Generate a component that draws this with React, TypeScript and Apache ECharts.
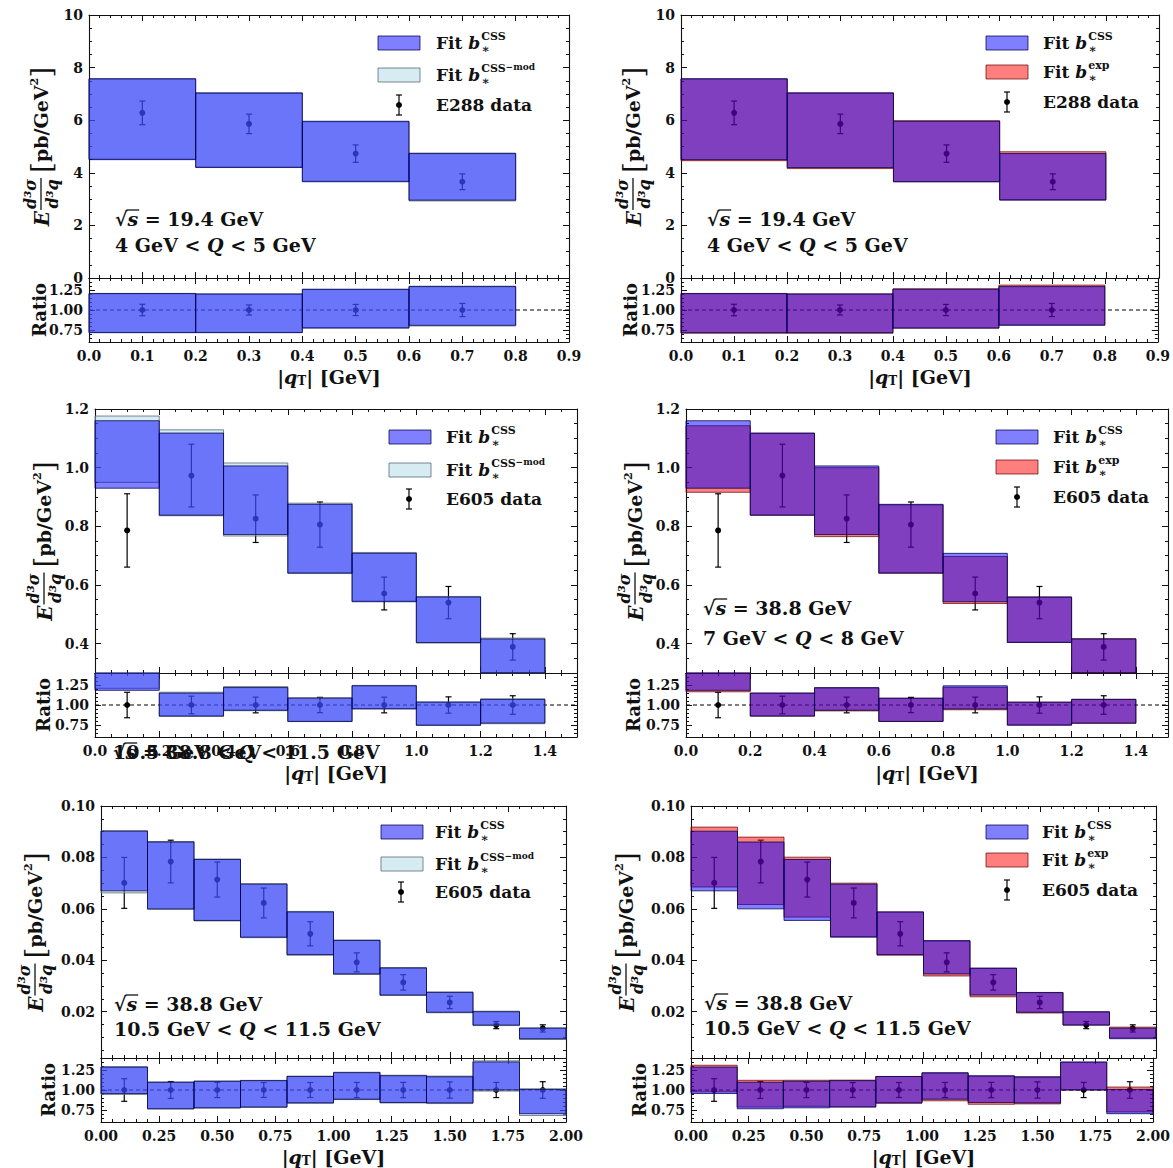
import React, { useEffect, useRef } from 'react';
import * as echarts from 'echarts';

const SERIF = '"DejaVu Serif", "Liberation Serif", serif';
const INK = '#111';

// ---------- E288, sqrt(s) = 19.4 GeV, 4 GeV < Q < 5 GeV ----------
const e288Edges = [0, 0.2, 0.4, 0.6, 0.8];
const e288Data = [6.28, 5.86, 4.73, 3.66];
const e288Err = [0.45, 0.37, 0.33, 0.3];
const e288CssLo = [4.5, 4.2, 3.66, 2.96];
const e288CssHi = [7.58, 7.04, 5.96, 4.73];
const e288ModLo = [4.52, 4.22, 3.68, 2.93];
const e288ModHi = [7.56, 7.02, 5.94, 4.75];
const e288ExpLo = [4.46, 4.16, 3.66, 2.98];
const e288ExpHi = [7.56, 7.03, 5.98, 4.8];

// ---------- E605, sqrt(s) = 38.8 GeV, 7 GeV < Q < 8 GeV ----------
const e605lowEdges = [0, 0.2, 0.4, 0.6, 0.8, 1.0, 1.2, 1.4];
const e605lowData = [0.786, 0.973, 0.826, 0.806, 0.571, 0.54, 0.389];
const e605lowErr = [0.125, 0.107, 0.081, 0.077, 0.056, 0.055, 0.045];
const e605lowCssLo = [0.93, 0.838, 0.772, 0.641, 0.543, 0.404, 0.301];
const e605lowCssHi = [1.16, 1.118, 1.006, 0.875, 0.708, 0.559, 0.416];
const e605lowModLo = [0.95, 0.836, 0.767, 0.639, 0.545, 0.402, 0.298];
const e605lowModHi = [1.176, 1.129, 1.016, 0.879, 0.711, 0.561, 0.419];
const e605lowExpLo = [0.916, 0.838, 0.765, 0.64, 0.537, 0.405, 0.3];
const e605lowExpHi = [1.143, 1.117, 1.0, 0.873, 0.697, 0.559, 0.417];

// ---------- E605, sqrt(s) = 38.8 GeV, 10.5 GeV < Q < 11.5 GeV ----------
const e605highEdges = [0, 0.2, 0.4, 0.6, 0.8, 1.0, 1.2, 1.4, 1.6, 1.8, 2.0];
const e605highData = [0.0701, 0.0784, 0.0714, 0.0623, 0.0503, 0.0392, 0.0314, 0.0236, 0.0148, 0.0135];
const e605highErr = [0.0099, 0.0083, 0.0068, 0.0058, 0.0047, 0.0037, 0.003, 0.0024, 0.0014, 0.0014];
const e605highCssLo = [0.067, 0.06, 0.0555, 0.049, 0.0422, 0.0347, 0.0265, 0.0198, 0.0148, 0.0095];
const e605highCssHi = [0.0902, 0.086, 0.0792, 0.0696, 0.0588, 0.0477, 0.037, 0.0275, 0.02, 0.0136];
const e605highModLo = [0.0662, 0.0598, 0.0553, 0.0488, 0.042, 0.0345, 0.0263, 0.0196, 0.0146, 0.0092];
const e605highModHi = [0.0904, 0.0862, 0.0794, 0.0698, 0.059, 0.0479, 0.0372, 0.0277, 0.0202, 0.0137];
const e605highExpLo = [0.0685, 0.0617, 0.0568, 0.0492, 0.042, 0.0339, 0.0258, 0.0195, 0.0148, 0.0098];
const e605highExpHi = [0.0918, 0.0879, 0.0801, 0.07, 0.0588, 0.0474, 0.0368, 0.0274, 0.0199, 0.014];

// ---------- tick labels ----------
const e288XTicks = [0, 0.1, 0.2, 0.3, 0.4, 0.5, 0.6, 0.7, 0.8, 0.9];
const e288YTicks = [0, 2, 4, 6, 8, 10];
const e605lowXTicks = [0, 0.2, 0.4, 0.6, 0.8, 1.0, 1.2, 1.4];
const e605lowYTicks = [0.4, 0.6, 0.8, 1.0, 1.2];
const e605highXTicks = [0, 0.25, 0.5, 0.75, 1.0, 1.25, 1.5, 1.75, 2.0];
const e605highYTicks = [0.02, 0.04, 0.06, 0.08, 0.1];
const ratioYTicks = [0.75, 1.0, 1.25];

function steps(a: number, b: number, s: number) {
  const out: number[] = [];
  const n = Math.round((b - a) / s);
  for (let i = 0; i <= n; i++) out.push(+(a + i * s).toFixed(6));
  return out;
}

const AX_E288_X = { min: 0, max: 0.9, major: e288XTicks, minor: steps(0, 0.9, 0.02), dec: 1 };
const AX_E288_Y = { min: 0, max: 10, major: e288YTicks, minor: steps(0, 10, 0.5), dec: 0 };
const AX_LOW_X = { min: 0, max: 1.5, major: e605lowXTicks, minor: steps(0, 1.5, 0.05), dec: 1 };
const AX_LOW_Y = { min: 0.3, max: 1.2, major: e605lowYTicks, minor: steps(0.3, 1.2, 0.05), dec: 1 };
const AX_HIGH_X = { min: 0, max: 2, major: e605highXTicks, minor: steps(0, 2, 0.05), dec: 2 };
const AX_HIGH_Y = { min: 0.002, max: 0.1, major: e605highYTicks, minor: steps(0.005, 0.1, 0.005), dec: 2 };
const AX_RATIO_Y = { min: 0.6, max: 1.4, major: ratioYTicks, minor: steps(0.6, 1.4, 0.05), dec: 2 };

const BLUE = { fill: 'rgba(0,0,255,0.5)', stroke: 'rgba(0,0,70,0.75)' };
const LIGHT = { fill: 'rgba(173,216,230,0.5)', stroke: 'rgba(80,100,110,0.75)' };
const RED = { fill: 'rgba(255,0,0,0.5)', stroke: 'rgba(100,0,0,0.7)' };

const F = (sz: number, it = false) => `${it ? 'italic ' : ''}bold ${sz}px ${SERIF}`;

const panels: any[] = [
  {
    left: 89, width: 480, top: 15, mid: 278, bottom: 342, ax: AX_E288_X, ay: AX_E288_Y,
    edges: e288Edges, data: e288Data, err: e288Err,
    under: { lo: e288ModLo, hi: e288ModHi, st: LIGHT }, over: { lo: e288CssLo, hi: e288CssHi, st: BLUE },
    second: 'mod', dataLabel: 'E288 data',
    legend: { patchX: 378, textX: 436, barX: 399, ys: [43, 75, 105] },
    notes: { x: 115, ys: [219, 245], rs: '19.4', q: ['4', '5'] },
    yTitleX: 41, ratioTitleX: 39, xTitleY: 377,
  },
  {
    left: 681, width: 478, top: 15, mid: 278, bottom: 342, ax: AX_E288_X, ay: AX_E288_Y,
    edges: e288Edges, data: e288Data, err: e288Err,
    under: { lo: e288ExpLo, hi: e288ExpHi, st: RED }, over: { lo: e288CssLo, hi: e288CssHi, st: BLUE },
    second: 'exp', dataLabel: 'E288 data',
    legend: { patchX: 986, textX: 1043, barX: 1007, ys: [43, 72, 102] },
    notes: { x: 707, ys: [219, 245], rs: '19.4', q: ['4', '5'] },
    yTitleX: 633, ratioTitleX: 630, xTitleY: 377,
  },
  {
    left: 95, width: 482, top: 409, mid: 673, bottom: 737, ax: AX_LOW_X, ay: AX_LOW_Y,
    edges: e605lowEdges, data: e605lowData, err: e605lowErr,
    under: { lo: e605lowModLo, hi: e605lowModHi, st: LIGHT }, over: { lo: e605lowCssLo, hi: e605lowCssHi, st: BLUE },
    second: 'mod', dataLabel: 'E605 data',
    legend: { patchX: 389, textX: 446, barX: 409, ys: [437, 470, 499] },
    notes: { x: 113, ys: [752, 752], rs: '38.8', q: ['10.5', '11.5'] },
    yTitleX: 44, ratioTitleX: 43, xTitleY: 773,
  },
  {
    left: 686, width: 482, top: 409, mid: 673, bottom: 737, ax: AX_LOW_X, ay: AX_LOW_Y,
    edges: e605lowEdges, data: e605lowData, err: e605lowErr,
    under: { lo: e605lowExpLo, hi: e605lowExpHi, st: RED }, over: { lo: e605lowCssLo, hi: e605lowCssHi, st: BLUE },
    second: 'exp', dataLabel: 'E605 data',
    legend: { patchX: 996, textX: 1053, barX: 1017, ys: [437, 467, 497] },
    notes: { x: 703, ys: [608, 638], rs: '38.8', q: ['7', '8'] },
    yTitleX: 635, ratioTitleX: 633, xTitleY: 773,
  },
  {
    left: 101, width: 465, top: 806, mid: 1058, bottom: 1122, ax: AX_HIGH_X, ay: AX_HIGH_Y,
    edges: e605highEdges, data: e605highData, err: e605highErr,
    under: { lo: e605highModLo, hi: e605highModHi, st: LIGHT }, over: { lo: e605highCssLo, hi: e605highCssHi, st: BLUE },
    second: 'mod', dataLabel: 'E605 data',
    legend: { patchX: 381, textX: 435, barX: 401, ys: [832, 864, 892] },
    notes: { x: 114, ys: [1004, 1029], rs: '38.8', q: ['10.5', '11.5'] },
    yTitleX: 35, ratioTitleX: 48, xTitleY: 1157,
  },
  {
    left: 691, width: 465, top: 806, mid: 1058, bottom: 1122, ax: AX_HIGH_X, ay: AX_HIGH_Y,
    edges: e605highEdges, data: e605highData, err: e605highErr,
    under: { lo: e605highExpLo, hi: e605highExpHi, st: RED }, over: { lo: e605highCssLo, hi: e605highCssHi, st: BLUE },
    second: 'exp', dataLabel: 'E605 data',
    legend: { patchX: 986, textX: 1042, barX: 1007, ys: [832, 860, 890] },
    notes: { x: 704, ys: [1003, 1028], rs: '38.8', q: ['10.5', '11.5'] },
    yTitleX: 626, ratioTitleX: 639, xTitleY: 1157,
  },
];

let measureCtx: CanvasRenderingContext2D | null = null;
function measure(text: string, font: string) {
  if (!measureCtx) measureCtx = document.createElement('canvas').getContext('2d');
  measureCtx!.font = font;
  return measureCtx!.measureText(text).width;
}

interface Frag { t: string; f: string; dy?: number; hold?: boolean; over?: boolean; gap?: number }

// Lays out a row of differently styled text pieces (sub/superscripts via dy).
function run(frags: Frag[], x: number, y: number, align: 'left' | 'center' = 'left') {
  const ws = frags.map((fr) => measure(fr.t, fr.f));
  let total = 0;
  frags.forEach((fr, i) => { if (!fr.hold) total += ws[i] + (fr.gap || 0); });
  let cx = align === 'center' ? x - total / 2 : x;
  const out: any[] = [];
  frags.forEach((fr, i) => {
    cx += fr.gap || 0;
    out.push({
      type: 'text', x: cx, y: y + (fr.dy || 0), silent: true,
      style: { text: fr.t, font: fr.f, fill: INK, align: 'left', verticalAlign: 'middle', textAlign: 'left', textVerticalAlign: 'middle' },
    });
    if (fr.over) {
      out.push({ type: 'line', silent: true, shape: { x1: cx - 1, y1: y - 9, x2: cx + ws[i] + 1, y2: y - 9 }, style: { stroke: INK, lineWidth: 1.3 } });
    }
    if (!fr.hold) cx += ws[i];
  });
  return out;
}

function sqrtS(v: string): Frag[] {
  return [{ t: '√', f: F(19) }, { t: 's', f: F(19, true), over: true }, { t: ` = ${v} GeV`, f: F(19) }];
}
function qRange(a: string, b: string): Frag[] {
  return [{ t: `${a} GeV < `, f: F(19) }, { t: 'Q', f: F(19, true) }, { t: ` < ${b} GeV`, f: F(19) }];
}

function errorBarEls(x: number, y: number, half: number) {
  const ls = { stroke: '#000', lineWidth: 1.2 };
  return [
    { type: 'line', silent: true, shape: { x1: x, y1: y - half, x2: x, y2: y + half }, style: ls },
    { type: 'line', silent: true, shape: { x1: x - 3, y1: y - half, x2: x + 3, y2: y - half }, style: ls },
    { type: 'line', silent: true, shape: { x1: x - 3, y1: y + half, x2: x + 3, y2: y + half }, style: ls },
    { type: 'circle', silent: true, shape: { cx: x, cy: y, r: 3 }, style: { fill: '#000' } },
  ];
}

function legendEls(p: any) {
  const L = p.legend;
  const els: any[] = [];
  const supCss: Frag[] = [{ t: 'CSS', f: F(11), dy: -7 }];
  const supMod: Frag[] = [{ t: 'CSS', f: F(11), dy: -7 }, { t: '−mod', f: F(9), dy: -8 }];
  const supExp: Frag[] = [{ t: 'exp', f: F(11), dy: -7 }];
  const entries = [
    { st: BLUE, sup: supCss },
    { st: p.second === 'mod' ? LIGHT : RED, sup: p.second === 'mod' ? supMod : supExp },
  ];
  entries.forEach((en, i) => {
    const y = L.ys[i];
    els.push({ type: 'rect', silent: true, shape: { x: L.patchX, y: y - 7, width: 42, height: 14 }, style: { fill: en.st.fill, stroke: en.st.stroke, lineWidth: 1 } });
    els.push(...run([{ t: 'Fit ', f: F(17) }, { t: 'b', f: F(17, true) }, { t: '∗', f: F(12), dy: 6, hold: true, gap: 1 }, ...en.sup], L.textX, y));
  });
  els.push(...errorBarEls(L.barX, L.ys[2], 10));
  els.push(...run([{ t: p.dataLabel, f: F(17) }], L.textX, L.ys[2]));
  return els;
}

// Rotated y-axis title:  E d³σ/d³q [pb/GeV²]
function yTitle(cx: number, cy: number) {
  const fE = F(20, true), fFrac = F(16, true), fTxt = F(19), fBr = `normal 28px ${SERIF}`, fSup = F(11);
  const wE = measure('E', fE);
  const wF = Math.max(measure('d³σ', fFrac), measure('d³q', fFrac)) + 2;
  const wB1 = measure('[', fBr), wP = measure('pb/GeV', fTxt), w2 = measure('2', fSup), wB2 = measure(']', fBr);
  const g1 = 1, g2 = 5;
  const total = wE + g1 + wF + g2 + wB1 + wP + w2 + wB2;
  let x = -total / 2;
  const T = (text: string, font: string, tx: number, ty: number, align = 'left') => ({
    type: 'text', x: tx, y: ty, silent: true,
    style: { text, font, fill: INK, align, verticalAlign: 'middle', textAlign: align, textVerticalAlign: 'middle' },
  });
  const ch: any[] = [];
  ch.push(T('E', fE, x, 1));
  x += wE + g1;
  ch.push(T('d³σ', fFrac, x + wF / 2, -11, 'center'));
  ch.push(T('d³q', fFrac, x + wF / 2, 11, 'center'));
  ch.push({ type: 'line', silent: true, shape: { x1: x, y1: 0, x2: x + wF, y2: 0 }, style: { stroke: INK, lineWidth: 1.3 } });
  x += wF + g2;
  ch.push(T('[', fBr, x, 0));
  x += wB1;
  ch.push(T('pb/GeV', fTxt, x, 0));
  x += wP;
  ch.push(T('2', fSup, x, -7));
  x += w2;
  ch.push(T(']', fBr, x, 0));
  return { type: 'group', x: cx, y: cy, rotation: Math.PI / 2, silent: true, children: ch };
}

function ratioTitle(cx: number, cy: number) {
  return {
    type: 'group', x: cx, y: cy, rotation: Math.PI / 2, silent: true,
    children: [{ type: 'text', x: 0, y: 0, style: { text: 'Ratio', font: F(18), fill: INK, align: 'center', verticalAlign: 'middle', textAlign: 'center', textVerticalAlign: 'middle' } }],
  };
}

function axisSet(kind: 'x' | 'y', g: number, cfg: any, withLabels: boolean) {
  const sides = kind === 'x' ? ['bottom', 'top'] : ['left', 'right'];
  const res: any[] = [];
  sides.forEach((pos, si) => {
    [true, false].forEach((isMajor) => {
      const showLabel = si === 0 && isMajor && withLabels;
      res.push({
        type: 'value', gridIndex: g, position: pos, min: cfg.min, max: cfg.max,
        axisLine: { show: isMajor, onZero: false, lineStyle: { color: INK, width: 1.1 } },
        axisTick: { show: true, inside: true, length: isMajor ? 6 : 3, customValues: isMajor ? cfg.major : cfg.minor, lineStyle: { color: INK, width: 1 } },
        axisLabel: showLabel
          ? {
              show: true, customValues: cfg.major, formatter: (v: number) => Number(v).toFixed(cfg.dec),
              margin: kind === 'x' ? 7 : 6, color: INK, fontFamily: SERIF, fontWeight: 'bold', fontSize: 14,
            }
          : { show: false },
        splitLine: { show: false },
        minorTick: { show: false },
      });
    });
  });
  return res;
}

function bandSeries(g: number, edges: number[], lo: number[], hi: number[], norm: number[] | null, st: any, z: number) {
  return {
    type: 'custom', xAxisIndex: 4 * g, yAxisIndex: 4 * g, z, silent: true,
    encode: { x: [0, 1], y: [2, 3] },
    data: lo.map((l, i) => [edges[i], edges[i + 1], norm ? l / norm[i] : l, norm ? hi[i] / norm[i] : hi[i]]),
    renderItem: (params: any, api: any) => {
      const a = api.coord([api.value(0), api.value(3)]);
      const b = api.coord([api.value(1), api.value(2)]);
      const cs = params.coordSys;
      const shape = echarts.graphic.clipRectByRect(
        { x: a[0], y: a[1], width: b[0] - a[0], height: b[1] - a[1] },
        { x: cs.x, y: cs.y, width: cs.width, height: cs.height },
      );
      if (!shape) return { type: 'group', children: [] };
      return { type: 'rect', shape, style: { fill: st.fill, stroke: st.stroke, lineWidth: 1 } };
    },
  };
}

function pointSeries(g: number, edges: number[], vals: number[], errs: number[], ratio: boolean) {
  return {
    type: 'custom', xAxisIndex: 4 * g, yAxisIndex: 4 * g, z: 1, silent: true,
    encode: { x: 0, y: 1 },
    data: vals.map((v, i) => {
      const c = (edges[i] + edges[i + 1]) / 2;
      return ratio ? [c, 1, errs[i] / v] : [c, v, errs[i]];
    }),
    renderItem: (params: any, api: any) => {
      const x = api.value(0), y = api.value(1), e = api.value(2);
      const p = api.coord([x, y]);
      const t = api.coord([x, y + e]);
      const b = api.coord([x, y - e]);
      const ls = { stroke: '#000', lineWidth: 1.2 };
      return {
        type: 'group',
        children: [
          { type: 'line', shape: { x1: p[0], y1: t[1], x2: p[0], y2: b[1] }, style: ls },
          { type: 'line', shape: { x1: p[0] - 3, y1: t[1], x2: p[0] + 3, y2: t[1] }, style: ls },
          { type: 'line', shape: { x1: p[0] - 3, y1: b[1], x2: p[0] + 3, y2: b[1] }, style: ls },
          { type: 'circle', shape: { cx: p[0], cy: p[1], r: 3 }, style: { fill: '#000' } },
        ],
      };
    },
  };
}

function unityLine(g: number) {
  return {
    type: 'custom', xAxisIndex: 4 * g, yAxisIndex: 4 * g, z: 1, silent: true,
    encode: { x: 0, y: 1 },
    data: [[0, 1]],
    renderItem: (params: any, api: any) => {
      const cs = params.coordSys;
      const y = api.coord([api.value(0), 1])[1];
      return { type: 'line', shape: { x1: cs.x, y1: y, x2: cs.x + cs.width, y2: y }, style: { stroke: '#000', lineWidth: 1, lineDash: [4, 3] } };
    },
  };
}

function buildOption() {
  const grid: any[] = [];
  const xAxis: any[] = [];
  const yAxis: any[] = [];
  const series: any[] = [];
  const graphics: any[] = [];

  panels.forEach((p, k) => {
    const gm = 2 * k, gr = 2 * k + 1;
    grid.push({ left: p.left, top: p.top, width: p.width, height: p.mid - p.top });
    grid.push({ left: p.left, top: p.mid, width: p.width, height: p.bottom - p.mid });

    xAxis.push(...axisSet('x', gm, p.ax, false));
    yAxis.push(...axisSet('y', gm, p.ay, true));
    xAxis.push(...axisSet('x', gr, p.ax, true));
    yAxis.push(...axisSet('y', gr, AX_RATIO_Y, true));

    // main panel: data underneath the translucent theory bands
    series.push(pointSeries(gm, p.edges, p.data, p.err, false));
    series.push(bandSeries(gm, p.edges, p.under.lo, p.under.hi, null, p.under.st, 2));
    series.push(bandSeries(gm, p.edges, p.over.lo, p.over.hi, null, p.over.st, 3));

    // ratio panel: theory / data
    series.push(unityLine(gr));
    series.push(pointSeries(gr, p.edges, p.data, p.err, true));
    series.push(bandSeries(gr, p.edges, p.under.lo, p.under.hi, p.data, p.under.st, 2));
    series.push(bandSeries(gr, p.edges, p.over.lo, p.over.hi, p.data, p.over.st, 3));

    graphics.push(...legendEls(p));
    graphics.push(...run(sqrtS(p.notes.rs), p.notes.x, p.notes.ys[0]));
    graphics.push(...run(qRange(p.notes.q[0], p.notes.q[1]), p.notes.x, p.notes.ys[1]));
    graphics.push(yTitle(p.yTitleX, (p.top + p.mid) / 2));
    graphics.push(ratioTitle(p.ratioTitleX, (p.mid + p.bottom) / 2));
    graphics.push(
      ...run(
        [{ t: '|', f: F(19) }, { t: 'q', f: F(19, true) }, { t: 'T', f: F(12), dy: 4 }, { t: '| [GeV]', f: F(19) }],
        p.left + p.width / 2, p.xTitleY, 'center',
      ),
    );
  });

  return {
    animation: false,
    backgroundColor: '#ffffff',
    grid,
    xAxis,
    yAxis,
    series,
    graphic: { elements: graphics },
  };
}

export default function App() {
  const ref = useRef<HTMLDivElement>(null);
  useEffect(() => {
    document.body.style.margin = '0';
    const chart = echarts.init(ref.current!, null, { renderer: 'svg' });
    chart.setOption(buildOption() as any);
    return () => chart.dispose();
  }, []);
  return <div ref={ref} style={{ width: 1173, height: 1168 }} />;
}
